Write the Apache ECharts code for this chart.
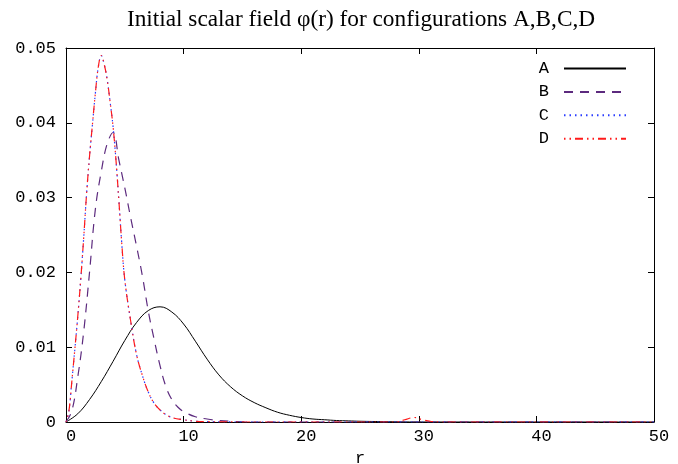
<!DOCTYPE html>
<html>
<head>
  <meta charset="UTF-8" />
  <title>Initial scalar field</title>
  <script src="https://cdn.jsdelivr.net/npm/echarts@6/dist/echarts.min.js"></script>
  <style>
    html, body { margin: 0; padding: 0; background: #fff; }
    #chart { width: 678px; height: 464px; }
  </style>
</head>
<body>
  <div id="chart"></div>
  <script>
    // values
    const xTicks = [0, 10, 20, 30, 40, 50];
    const yTicks = [0, 0.01, 0.02, 0.03, 0.04, 0.05];
    const names = ['A', 'B', 'C', 'D'];

    const rA   = [0, 1, 2, 3, 4, 5, 6, 7, 8, 9, 10, 11, 12, 13, 14, 15, 16, 17, 18, 19, 20, 21, 22, 23, 24, 25, 27, 30, 50];
    const phiA = [0, 0.0011, 0.0030, 0.0054, 0.0081, 0.0109, 0.0133, 0.0149, 0.0154, 0.0147, 0.0131, 0.0108, 0.0084, 0.0063, 0.0047, 0.0035, 0.0026, 0.0019, 0.0013, 0.0009, 0.0006, 0.0004, 0.0003, 0.0002, 0.00015, 0.0001, 0.00005, 0, 0];

    const rB   = [0, 0.5, 1.0, 1.5, 2.0, 2.5, 3.0, 3.5, 4.0, 4.5, 5.0, 5.5, 6.0, 6.5, 7.0, 7.5, 8.0, 8.5, 9.0, 9.5, 10, 11, 12, 13, 14, 16, 50];
    const phiB = [0, 0.0015, 0.006, 0.012, 0.020, 0.0285, 0.0335, 0.0372, 0.0387, 0.0350, 0.0313, 0.0273, 0.0235, 0.0195, 0.0148, 0.0110, 0.0075, 0.0047, 0.0030, 0.0020, 0.0014, 0.0007, 0.0004, 0.0002, 0.0001, 0, 0];

    const rC   = [0, 0.25, 0.5, 0.75, 1.0, 1.25, 1.5, 1.75, 2.0, 2.25, 2.5, 2.75, 3.0, 3.25, 3.5, 3.75, 4.0, 4.25, 4.5, 4.75, 5.0, 5.5, 6.0, 6.5, 7.0, 7.5, 8.0, 8.5, 9.0, 10, 11, 12, 15, 50];
    const phiC = [0, 0.0015, 0.0055, 0.0097, 0.0141, 0.0190, 0.0245, 0.0305, 0.0355, 0.0398, 0.0440, 0.0475, 0.0490, 0.0478, 0.0458, 0.0428, 0.0395, 0.0350, 0.0295, 0.0237, 0.0190, 0.0135, 0.0090, 0.0062, 0.0040, 0.0025, 0.0016, 0.0010, 0.0006, 0.0003, 0.0001, 0.00005, 0, 0];

    const rD   = [0, 0.25, 0.5, 0.75, 1.0, 1.25, 1.5, 1.75, 2.0, 2.25, 2.5, 2.75, 3.0, 3.25, 3.5, 3.75, 4.0, 4.25, 4.5, 4.75, 5.0, 5.5, 6.0, 6.5, 7.0, 7.5, 8.0, 8.5, 9.0, 10, 11, 12, 15, 28, 28.8, 29.6, 30.3, 31, 32, 50];
    const phiD = [0, 0.0015, 0.0055, 0.0097, 0.0141, 0.0190, 0.0245, 0.0305, 0.0355, 0.0398, 0.0440, 0.0475, 0.0490, 0.0478, 0.0458, 0.0428, 0.0395, 0.0350, 0.0295, 0.0237, 0.0190, 0.0135, 0.0090, 0.0062, 0.0040, 0.0025, 0.0016, 0.0010, 0.0006, 0.0003, 0.0001, 0.00005, 0, 0, 0.0003, 0.0006, 0.0003, 0.0001, 0, 0];

    const pairs = (xs, ys) => xs.map((x, i) => [x, ys[i]]);

    const mono = 'Liberation Mono';
    const frameAxis = {
      axisLine: { show: true, onZero: false, lineStyle: { color: '#000', width: 1 } },
      axisTick: { show: true, inside: true, length: 6, lineStyle: { color: '#000' } },
      splitLine: { show: false }
    };

    const chart = echarts.init(document.getElementById('chart'));
    chart.setOption({
      animation: false,
      backgroundColor: '#fff',
      title: {
        text: 'Initial scalar field φ(r) for configurations A,B,C,D',
        left: 356, top: 3, textAlign: 'center',
        textStyle: { fontFamily: 'Liberation Serif', fontWeight: 'normal', fontSize: 23.3, color: '#000' }
      },
      legend: {
        orient: 'vertical', right: 51, top: 60, padding: 0,
        align: 'right', itemWidth: 62, itemHeight: 14, itemGap: 6.4,
        itemStyle: { opacity: 0, borderWidth: 0 },
        textStyle: { fontFamily: mono, fontSize: 17, color: '#000', padding: [0, 10, 0, 0] },
        data: names
      },
      grid: { left: 66, right: 24, top: 48, bottom: 42, outerBoundsMode: 'none' },
      xAxis: [
        Object.assign({
          type: 'value', min: 0, max: 50, interval: 10,
          name: 'r', nameLocation: 'middle', nameGap: 24,
          nameTextStyle: { fontFamily: mono, fontSize: 17, color: '#000' },
          axisLabel: { fontFamily: mono, fontSize: 17, color: '#000', margin: 6, padding: [0, 0, 0, 10] }
        }, frameAxis),
        Object.assign({
          type: 'value', min: 0, max: 50, interval: 10, position: 'top',
          axisLabel: { show: false }
        }, frameAxis)
      ],
      yAxis: [
        Object.assign({
          type: 'value', min: 0, max: 0.05, interval: 0.01,
          axisLabel: {
            fontFamily: mono, fontSize: 17, color: '#000', margin: 10,
            formatter: v => v === 0 ? '0' : v.toFixed(2)
          }
        }, frameAxis),
        Object.assign({
          type: 'value', min: 0, max: 0.05, interval: 0.01, position: 'right',
          axisLabel: { show: false }
        }, frameAxis)
      ],
      series: [
        {
          name: 'A', type: 'line', data: pairs(rA, phiA), symbol: 'none', smooth: 0.4,
          lineStyle: { color: '#000', width: 1, type: 'solid' }, itemStyle: { color: '#000' }
        },
        {
          name: 'B', type: 'line', data: pairs(rB, phiB), symbol: 'none', smooth: 0.4,
          lineStyle: { color: '#5c2a7e', width: 1.2, type: [9, 7] }, itemStyle: { color: '#5c2a7e' }
        },
        {
          name: 'C', type: 'line', data: pairs(rC, phiC), symbol: 'none', smooth: 0.4,
          lineStyle: { color: '#2a3cff', width: 1.2, type: [1.5, 4] }, itemStyle: { color: '#2a3cff' }
        },
        {
          name: 'D', type: 'line', data: pairs(rD, phiD), symbol: 'none', smooth: 0.4,
          lineStyle: { color: '#ff1a1a', width: 1.2, type: [1.5, 4, 1.5, 4, 8, 4] }, itemStyle: { color: '#ff1a1a' }
        }
      ]
    });
  </script>
</body>
</html>
